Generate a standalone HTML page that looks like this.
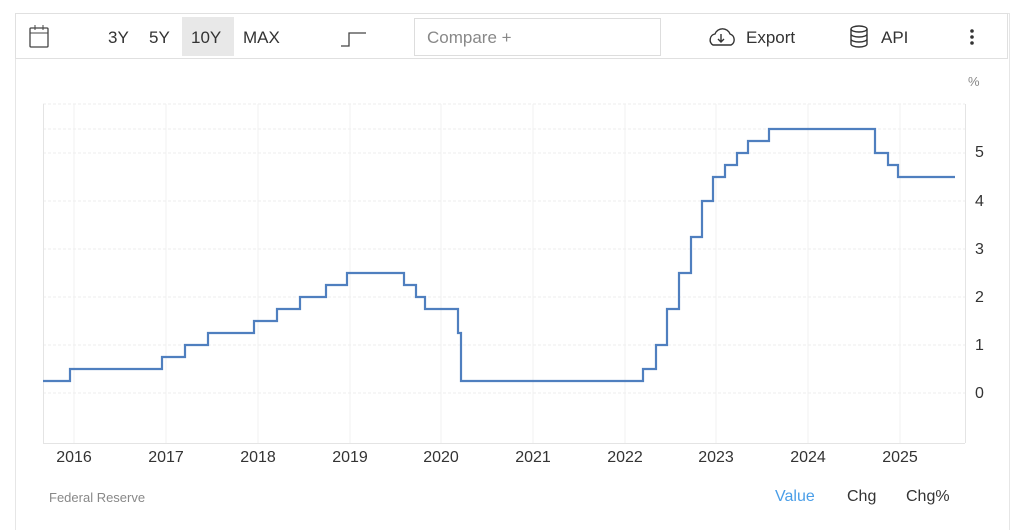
<!DOCTYPE html>
<html><head><meta charset="utf-8"><style>
body{margin:0;width:1024px;height:531px;background:#fff;font-family:"Liberation Sans",sans-serif;position:relative;overflow:hidden}
.frame{position:absolute;left:15px;top:13px;width:993px;height:516px;border:1px solid #e6e6e6;border-bottom:none}
.tb{position:absolute;left:15px;top:13px;width:993px;height:46px;border:1px solid #e0e0e0;box-sizing:border-box}
.t{position:absolute;font-size:17px;color:#333;top:28px}
</style></head><body>
<div class="frame"></div>
<div class="tb"></div>
<div style="position:absolute;left:182px;top:17px;width:52px;height:39px;background:#e8e8e8"></div>
<svg style="position:absolute;left:0;top:0" width="1024" height="531">
<rect x="30" y="28" width="18" height="19" fill="none" stroke="#444" stroke-width="1.3" rx="1"/>
<line x1="30" y1="33" x2="48" y2="33" stroke="#444"/>
<line x1="35" y1="25" x2="35" y2="30" stroke="#444"/><line x1="43" y1="25" x2="43" y2="30" stroke="#444"/>
<path d="M341 46 H349 V33 H366" fill="none" stroke="#444" stroke-width="1.3"/>
<rect x="414.5" y="18.5" width="246" height="37" fill="none" stroke="#ddd"/>
<path d="M713 45 a6 6 0 0 1 2-11 a8 8 0 0 1 15 0 a6 6 0 0 1 1 11 z" fill="none" stroke="#333" stroke-width="1.4"/>
<path d="M721 34 v8 M718 39 l3 3 3-3" fill="none" stroke="#333" stroke-width="1.4"/>
<ellipse cx="859" cy="29" rx="8" ry="3" fill="none" stroke="#333" stroke-width="1.4"/>
<path d="M851 29 v15 a8 3 0 0 0 16 0 v-15 M851 34 a8 3 0 0 0 16 0 M851 39 a8 3 0 0 0 16 0" fill="none" stroke="#333" stroke-width="1.4"/>
<circle cx="972" cy="31" r="1.8" fill="#333"/><circle cx="972" cy="37" r="1.8" fill="#333"/><circle cx="972" cy="43" r="1.8" fill="#333"/>
<g stroke="#eee" stroke-width="1" stroke-dasharray="3,2">
<line x1="43" y1="104" x2="965" y2="104"/>
<line x1="43" y1="129" x2="965" y2="129"/><line x1="43" y1="153" x2="965" y2="153"/><line x1="43" y1="201" x2="965" y2="201"/><line x1="43" y1="249" x2="965" y2="249"/><line x1="43" y1="297" x2="965" y2="297"/><line x1="43" y1="345" x2="965" y2="345"/><line x1="43" y1="393" x2="965" y2="393"/>
</g>
<g stroke="#f0f0f0" stroke-width="1">
<line x1="74" y1="104" x2="74" y2="443"/><line x1="166" y1="104" x2="166" y2="443"/><line x1="258" y1="104" x2="258" y2="443"/><line x1="350" y1="104" x2="350" y2="443"/><line x1="441" y1="104" x2="441" y2="443"/><line x1="533" y1="104" x2="533" y2="443"/><line x1="625" y1="104" x2="625" y2="443"/><line x1="716" y1="104" x2="716" y2="443"/><line x1="808" y1="104" x2="808" y2="443"/><line x1="900" y1="104" x2="900" y2="443"/>
</g>
<line x1="43.5" y1="104" x2="43.5" y2="443" stroke="#e4e4e4"/>
<line x1="965.5" y1="104" x2="965.5" y2="443" stroke="#e4e4e4"/>
<line x1="43" y1="443.5" x2="965" y2="443.5" stroke="#e4e4e4"/>
<path fill="none" stroke="#4f7fbf" stroke-width="2.2" d="M43 381 H70 V369 H162 V357 H185 V345 H208 V333 H254 V321 H277 V309 H300 V297 H326 V285 H347 V273 H404 V285 H416 V297 H425 V309 H458 V333 H461 V381 H643 V369 H656 V345 H667 V309 H679 V273 H691 V237 H702 V201 H713 V177 H725 V165 H737 V153 H748 V141 H769 V129 H875 V153 H888 V165 H898 V177 H955"/>
<g font-size="15" fill="#333" font-family="Liberation Sans,sans-serif">
<text x="975" y="157" font-size="16">5</text><text x="975" y="206" font-size="16">4</text><text x="975" y="254" font-size="16">3</text><text x="975" y="302" font-size="16">2</text><text x="975" y="350" font-size="16">1</text><text x="975" y="398" font-size="16">0</text>
<text x="968" y="86" font-size="13" fill="#888">%</text>
<g text-anchor="middle" font-size="16"><text x="74" y="462">2016</text><text x="166" y="462">2017</text><text x="258" y="462">2018</text><text x="350" y="462">2019</text><text x="441" y="462">2020</text><text x="533" y="462">2021</text><text x="625" y="462">2022</text><text x="716" y="462">2023</text><text x="808" y="462">2024</text><text x="900" y="462">2025</text></g>
</g>
</svg>
<div class="t" style="left:108px">3Y</div><div class="t" style="left:149px">5Y</div><div class="t" style="left:191px">10Y</div><div class="t" style="left:243px">MAX</div>
<div class="t" style="left:427px;color:#888">Compare +</div>
<div class="t" style="left:746px">Export</div><div class="t" style="left:881px">API</div>
<div style="position:absolute;left:49px;top:490px;font-size:13px;color:#888">Federal Reserve</div>
<div style="position:absolute;left:775px;top:488px;font-size:16px;color:#4a9ee8">Value</div>
<div style="position:absolute;left:847px;top:488px;font-size:16px;color:#333">Chg</div>
<div style="position:absolute;left:906px;top:488px;font-size:16px;color:#333">Chg%</div>
</body></html>
